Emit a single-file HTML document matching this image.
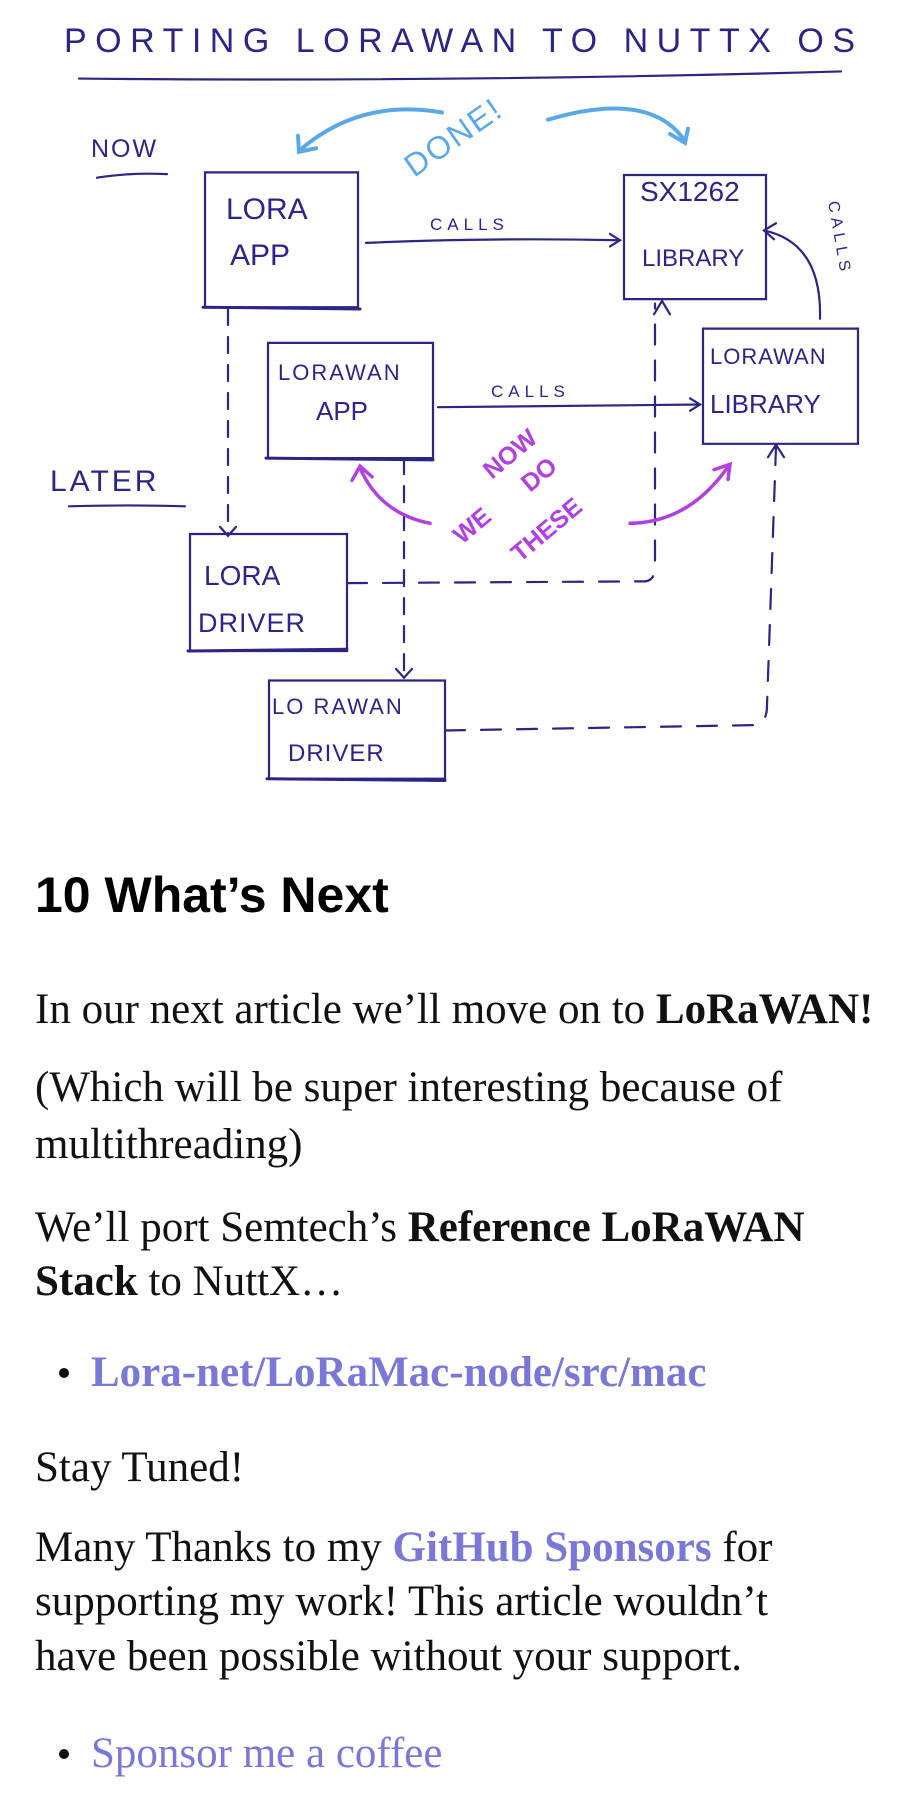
<!DOCTYPE html>
<html><head><meta charset="utf-8"><style>
html,body{margin:0;padding:0;background:#fff;}
body{width:914px;height:1793px;position:relative;overflow:hidden;}
svg{position:absolute;left:0;top:0;}
.t{position:absolute;left:35px;font-family:"Liberation Serif",serif;font-size:43px;line-height:54px;color:#111;white-space:nowrap;}
.h{position:absolute;left:35px;font-family:"Liberation Sans",sans-serif;font-weight:bold;font-size:50px;color:#000;}
b{font-weight:bold}
.l{color:#7a78d6;}
.dot{position:absolute;width:10px;height:10px;border-radius:5px;background:#111;}
</style></head><body>
<svg width="914" height="820" viewBox="0 0 914 820">
<g transform="scale(1 0.893)">
<g fill="none" stroke="#2b2585" stroke-width="2.2" stroke-linecap="round">
<path d="M79 88 Q460 92 841 80" vector-effect="non-scaling-stroke"/>
<path d="M97 199 Q130 193 167 195" vector-effect="non-scaling-stroke"/>
<path d="M69 567 Q130 565 185 567" vector-effect="non-scaling-stroke"/>
<rect x="205" y="193" width="153" height="151" vector-effect="non-scaling-stroke"/>
<path d="M203 344 L360 346" stroke-width="3" vector-effect="non-scaling-stroke"/>
<rect x="624" y="196" width="142" height="139" vector-effect="non-scaling-stroke"/>
<rect x="268" y="384" width="165" height="129" vector-effect="non-scaling-stroke"/>
<path d="M266 513 L433 515" stroke-width="3" vector-effect="non-scaling-stroke"/>
<rect x="703" y="368" width="155" height="129" vector-effect="non-scaling-stroke"/>
<rect x="190" y="598" width="157" height="131" vector-effect="non-scaling-stroke"/>
<path d="M188 729 L347 727" stroke-width="3" vector-effect="non-scaling-stroke"/>
<rect x="269" y="762" width="176" height="110" vector-effect="non-scaling-stroke"/>
<path d="M267 872 L445 874" stroke-width="3" vector-effect="non-scaling-stroke"/>
<path d="M366 272 Q490 266 620 269" vector-effect="non-scaling-stroke"/><path d="M610 262 L620 269 L610 276" vector-effect="non-scaling-stroke"/>
<path d="M438 456 L700 453" vector-effect="non-scaling-stroke"/><path d="M690 446 L700 453 L690 460" vector-effect="non-scaling-stroke"/>
<path d="M228 346 L228 600" stroke-dasharray="16 12" vector-effect="non-scaling-stroke"/><path d="M220 590 L228 600 L236 590" vector-effect="non-scaling-stroke"/>
<path d="M404 513 L404 759" stroke-dasharray="16 12" vector-effect="non-scaling-stroke"/><path d="M396 749 L404 759 L412 749" vector-effect="non-scaling-stroke"/>
<path d="M347 653 L645 651 Q655 650 655 635 L655 340" stroke-dasharray="20 16" vector-effect="non-scaling-stroke"/><path d="M654 352 L662 337 L670 352" vector-effect="non-scaling-stroke"/>
<path d="M445 818 L755 812 Q767 810 767 790 L776 500" stroke-dasharray="20 16" vector-effect="non-scaling-stroke"/><path d="M768 512 L776 498 L784 512" vector-effect="non-scaling-stroke"/>
<path d="M820 357 Q822 272 764 258" vector-effect="non-scaling-stroke"/><path d="M776 250 L764 258 L774 268" vector-effect="non-scaling-stroke"/>
</g>
<g fill="none" stroke="#5aa8e8" stroke-width="4" stroke-linecap="round">
<path d="M442 126 Q360 110 300 168" vector-effect="non-scaling-stroke"/><path d="M298 152 L299 170 L316 166" vector-effect="non-scaling-stroke"/>
<path d="M548 134 Q650 100 685 158" vector-effect="non-scaling-stroke"/><path d="M670 150 L685 160 L688 144" vector-effect="non-scaling-stroke"/>
</g>
<g fill="none" stroke="#b040e0" stroke-width="3.5" stroke-linecap="round">
<path d="M430 586 Q380 575 360 524" vector-effect="non-scaling-stroke"/><path d="M352 538 L360 522 L372 534" vector-effect="non-scaling-stroke"/>
<path d="M630 586 Q690 585 729 521" vector-effect="non-scaling-stroke"/><path d="M714 526 L730 520 L728 537" vector-effect="non-scaling-stroke"/>
</g>
</g>
<g font-family="Liberation Sans,sans-serif" fill="#2b2585">
<text x="64" y="52" font-size="34" textLength="791" lengthAdjust="spacing">PORTING LORAWAN TO NUTTX OS</text>
<text x="91" y="157" font-size="25" letter-spacing="2">NOW</text>
<text x="50" y="491" font-size="30" letter-spacing="3">LATER</text>
<text x="226" y="219" font-size="30">LORA</text>
<text x="230" y="265" font-size="30">APP</text>
<text x="640" y="201" font-size="28">SX1262</text>
<text x="642" y="266" font-size="24">LIBRARY</text>
<text x="278" y="380" font-size="22" letter-spacing="2">LORAWAN</text>
<text x="316" y="420" font-size="26">APP</text>
<text x="710" y="364" font-size="22" letter-spacing="1">LORAWAN</text>
<text x="710" y="413" font-size="26">LIBRARY</text>
<text x="204" y="585" font-size="28">LORA</text>
<text x="198" y="632" font-size="27" letter-spacing="1">DRIVER</text>
<text x="272" y="714" font-size="22" letter-spacing="2">LO RAWAN</text>
<text x="288" y="761" font-size="24" letter-spacing="1">DRIVER</text>
<text x="430" y="230" font-size="17" letter-spacing="5">CALLS</text>
<text x="491" y="397" font-size="17" letter-spacing="5">CALLS</text>
<text x="0" y="0" font-size="16" letter-spacing="5" transform="translate(828 202) rotate(80)">CALLS</text>
</g>
<text x="0" y="0" font-family="Liberation Sans,sans-serif" font-size="32" fill="#5aa8e8" letter-spacing="2" transform="translate(414 178) rotate(-35)">DONE!</text>
<g font-family="Liberation Sans,sans-serif" font-weight="bold" fill="#b040e0" font-size="25">
<text transform="translate(492 480) rotate(-40)">NOW</text>
<text transform="translate(462 545) rotate(-40)">WE</text>
<text transform="translate(530 493) rotate(-40)">DO</text>
<text transform="translate(520 563) rotate(-40)">THESE</text>
</g>
</svg>
<div class="h" style="top:866px">10 What’s Next</div>
<div class="t" style="top:983px">In our next article we’ll move on to <b>LoRaWAN!</b></div>
<div class="t" style="top:1061px">(Which will be super interesting because of</div>
<div class="t" style="top:1118px">multithreading)</div>
<div class="t" style="top:1201px">We’ll port Semtech’s <b>Reference LoRaWAN</b></div>
<div class="t" style="top:1255px"><b>Stack</b> to NuttX…</div>
<div class="dot" style="left:59px;top:1368px"></div>
<div class="t l" style="left:91px;top:1346px"><b>Lora-net/LoRaMac-node/src/mac</b></div>
<div class="t" style="top:1441px">Stay Tuned!</div>
<div class="t" style="top:1521px">Many Thanks to my <b class="l">GitHub Sponsors</b> for</div>
<div class="t" style="top:1575px">supporting my work! This article wouldn’t</div>
<div class="t" style="top:1630px">have been possible without your support.</div>
<div class="dot" style="left:59px;top:1749px"></div>
<div class="t l" style="left:91px;top:1727px">Sponsor me a coffee</div>
</body></html>
